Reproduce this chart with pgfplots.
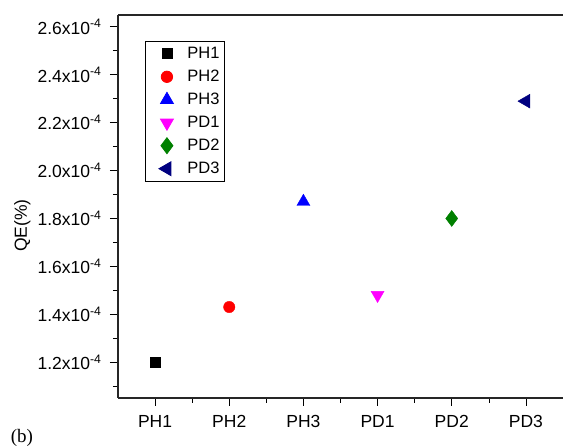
\documentclass[border=0pt]{standalone}
\usepackage{fontspec}
\setmainfont{Liberation Sans}
\newfontfamily\timesfont{Liberation Serif}
\usepackage{pgfplots}
\pgfplotsset{compat=1.18}
\definecolor{dgreen}{RGB}{0,128,0}
\definecolor{dnavy}{RGB}{0,0,128}
\definecolor{mmag}{RGB}{255,0,255}
\definecolor{mred}{RGB}{255,0,0}
\definecolor{mblue}{RGB}{0,0,255}
\pgfplotsset{mylegend/.style={legend image code/.code={\path (0pt,0pt) (36pt,0pt); \draw[##1] plot coordinates {(18pt,0pt)};}}}
\begin{document}
\begin{tikzpicture}
\begin{axis}[
  name=a,
  scale only axis,
  width=445pt, height=383pt,
  at={(0pt,0pt)}, anchor=south west,
  xmin=-0.5, xmax=5.5,
  ymin=1.05e-4, ymax=2.65e-4,
  scaled y ticks=false,
  axis x line*=box,
  axis y line*=left,
  axis line style={-, line width=1.2pt, black!85},
  xtick={0,1,2,3,4,5},
  xticklabels={PH1,\raisebox{-4pt}{PH2},PH3,PD1,\raisebox{-4pt}{PD2},PD3},
  minor xtick={0.5,1.5,2.5,3.5,4.5},
  xtick pos=left,
  xtick align=outside,
  ytick align=outside,
  major x tick style={line width=0.6pt},
  minor x tick style={line width=0.6pt},
  x tick style={black},
  y tick style={black, line width=1pt},
  major tick length=8pt,
  minor tick length=5pt,
  x tick label style={font=\fontsize{17.5}{20}\selectfont, yshift=-6pt},
  ytick={1.2e-4,1.4e-4,1.6e-4,1.8e-4,2.0e-4,2.2e-4,2.4e-4,2.6e-4},
  yticklabels={1.2x10\textsuperscript{-4},1.4x10\textsuperscript{-4},1.6x10\textsuperscript{-4},1.8x10\textsuperscript{-4},2.0x10\textsuperscript{-4},2.2x10\textsuperscript{-4},2.4x10\textsuperscript{-4},2.6x10\textsuperscript{-4}},
  minor ytick={1.1e-4,1.3e-4,1.5e-4,1.7e-4,1.9e-4,2.1e-4,2.3e-4,2.5e-4},
  y tick label style={font=\fontsize{17.5}{20}\selectfont, xshift=-5pt},
  ylabel={QE(\%)},
  ylabel style={font=\fontsize{17.5}{20}\selectfont, at={(axis description cs:-0.215,0.45)}, anchor=center},
  clip=false,
  legend cell align=left,
  legend style={at={(rel axis cs:0.061,0.932)}, anchor=north west,
    font=\fontsize{16.5}{18}\selectfont, draw=black, line width=0.8pt,
    row sep=6pt, inner xsep=3pt, inner ysep=4pt},
]
\addplot[only marks, mark=square*, mark size=5pt, color=black, mylegend] coordinates {(0,1.20e-4)};
\addlegendentry{PH1}
\addplot[only marks, mark=*, mark size=5.7pt, color=mred, mylegend] coordinates {(1,1.43e-4)};
\addlegendentry{PH2}
\addplot[only marks, mark=triangle*, mark size=7.5pt, color=mblue, mylegend] coordinates {(2,1.87e-4)};
\addlegendentry{PH3}
\addplot[only marks, mark=triangle*, mark size=7.5pt, mark options={rotate=180}, color=mmag, mylegend] coordinates {(3,1.48e-4)};
\addlegendentry{PD1}
\addplot[only marks, mark=diamond*, mark size=8pt, color=dgreen, mylegend] coordinates {(4,1.80e-4)};
\addlegendentry{PD2}
\addplot[only marks, mark=triangle*, mark size=8pt, mark options={rotate=90}, color=dnavy, mylegend] coordinates {(5,2.29e-4)};
\addlegendentry{PD3}
\node[font=\timesfont\fontsize{19}{22}\selectfont] at (rel axis cs:-0.216,-0.105) {(b)};
\end{axis}
\pgfresetboundingbox
\useasboundingbox (-118pt,-48pt) rectangle (445pt,398pt);
\end{tikzpicture}
\end{document}
